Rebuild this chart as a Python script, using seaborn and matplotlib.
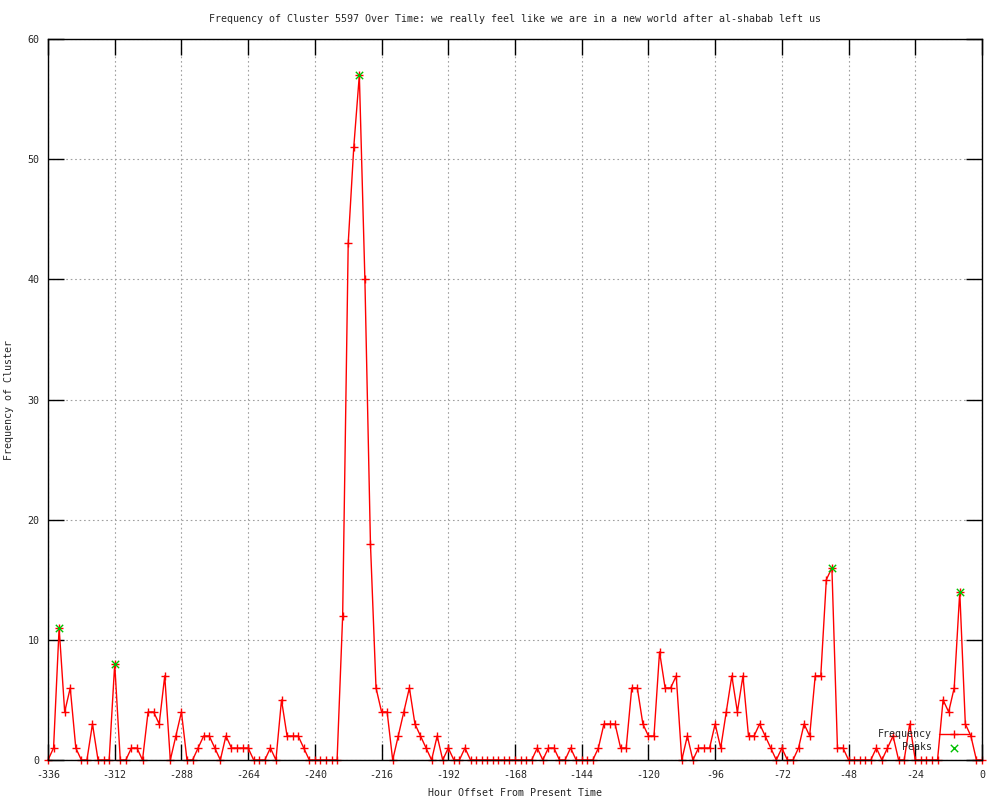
import numpy as np
import pandas as pd
import matplotlib
matplotlib.use("Agg")
import matplotlib.pyplot as plt
import seaborn as sns

# ---- data ----
hours = list(range(-336, 1, 2))
frequency = [
    0, 1, 11, 4, 6, 1, 0, 0, 3, 0, 0, 0, 8, 0, 0, 1, 1, 0, 4, 4,
    3, 7, 0, 2, 4, 0, 0, 1, 2, 2, 1, 0, 2, 1, 1, 1, 1, 0, 0, 0,
    1, 0, 5, 2, 2, 2, 1, 0, 0, 0, 0, 0, 0, 12, 43, 51, 57, 40, 18, 6,
    4, 4, 0, 2, 4, 6, 3, 2, 1, 0, 2, 0, 1, 0, 0, 1, 0, 0, 0, 0,
    0, 0, 0, 0, 0, 0, 0, 0, 1, 0, 1, 1, 0, 0, 1, 0, 0, 0, 0, 1,
    3, 3, 3, 1, 1, 6, 6, 3, 2, 2, 9, 6, 6, 7, 0, 2, 0, 1, 1, 1,
    3, 1, 4, 7, 4, 7, 2, 2, 3, 2, 1, 0, 1, 0, 0, 1, 3, 2, 7, 7,
    15, 16, 1, 1, 0, 0, 0, 0, 0, 1, 0, 1, 2, 0, 0, 3, 0, 0, 0, 0,
    0, 5, 4, 6, 14, 3, 2, 0, 0,
]
peak_hours = [-332, -312, -224, -54, -8]
peak_values = [11, 8, 57, 16, 14]
x_ticks = list(range(-336, 1, 24))
y_ticks = list(range(0, 61, 10))

title = "Frequency of Cluster 5597 Over Time: we really feel like we are in a new world after al-shabab left us"
xlabel = "Hour Offset From Present Time"
ylabel = "Frequency of Cluster"

df = pd.DataFrame({"hour": hours, "freq": frequency})
peaks = pd.DataFrame({"hour": peak_hours, "freq": peak_values})

sns.set_style("white")
plt.rcParams["font.family"] = ["DejaVu Sans Mono"]
FS = 7.2

fig = plt.figure(figsize=(10, 8), dpi=100)
ax = fig.add_axes([0.048, 0.05, 0.934, 0.90125])

sns.lineplot(data=df, x="hour", y="freq", ax=ax, color="red", linewidth=1.0,
             marker="+", markersize=6, markeredgewidth=1.0, markeredgecolor="red",
             label="Frequency", clip_on=False)
sns.scatterplot(data=peaks, x="hour", y="freq", ax=ax, marker="x",
                color="#00c000", s=28, linewidth=1.0, label="Peaks", zorder=5)

ax.set_xlim(-336, 0)
ax.set_ylim(0, 60)
ax.set_xticks(x_ticks)
ax.set_yticks(y_ticks)
ax.set_xticklabels([str(t).replace("-", "\u2212") if False else str(t) for t in x_ticks])

ax.grid(True, color="#a0a0a0", linestyle=(0, (1.5, 2.5)), linewidth=0.8)
ax.set_axisbelow(True)
for s in ax.spines.values():
    s.set_color("black")
    s.set_linewidth(1.0)
    s.set_visible(True)

ax.tick_params(axis="both", which="major", direction="in", length=11.5, width=1.0,
               color="black", labelsize=FS, top=True, right=True, bottom=True, left=True)
ax.tick_params(axis="x", pad=7)
ax.tick_params(axis="y", pad=6)

ax.set_title(title, fontsize=FS, pad=12)
ax.set_xlabel(xlabel, fontsize=FS, labelpad=6)
ax.set_ylabel(ylabel, fontsize=FS, labelpad=10)

leg = ax.legend(loc="lower right", bbox_to_anchor=(0.99, 0.005), frameon=False,
                markerfirst=False, fontsize=FS, handlelength=3.0, handletextpad=0.7,
                labelspacing=0.3, borderaxespad=0.0)

fig.savefig("out.png", dpi=100)
